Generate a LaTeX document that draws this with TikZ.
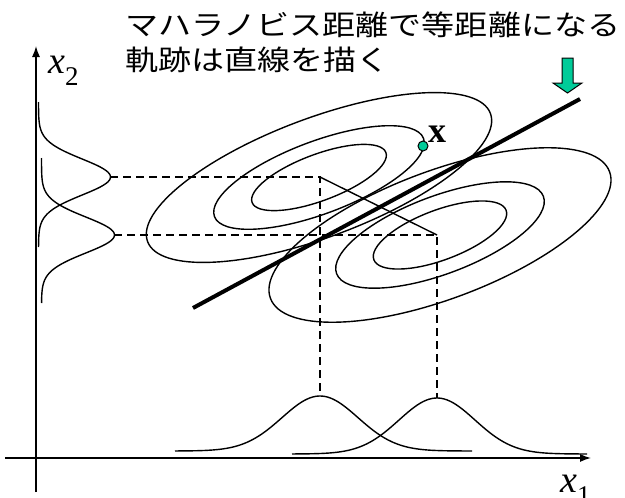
\documentclass[tikz,border=0pt]{standalone}
\usepackage{graphicx}
\usepackage{fontspec}
\setmainfont{Liberation Serif}
\newfontfamily\cjk{Noto Sans CJK JP}
\usetikzlibrary{arrows.meta}
\definecolor{mgreen}{RGB}{0,204,153}
\begin{document}
\begin{tikzpicture}[x=1pt,y=-1pt,
  curve/.style={line width=1.4pt},
  guide/.style={line width=1.3pt, dash pattern=on 8pt off 5pt},
  axisline/.style={line width=1.4pt, -{Latex[length=11pt,width=8pt]}},
  thickline/.style={line width=4pt},
  lbl/.style={anchor=base west, inner sep=0pt},
  jp/.style={anchor=base west, inner sep=0pt, font=\cjk\fontsize{28}{28}\selectfont}]
\useasboundingbox (0,0) rectangle (625,498);

% coordinates
\coordinate (yb) at (36,492);
\coordinate (yt) at (36,46);
\coordinate (xl) at (5,458);
\coordinate (xr) at (591,458);
\coordinate (m1) at (320,177);
\coordinate (m2) at (437,235);
\coordinate (cu) at (319,177.5);
\coordinate (cl) at (440,235);
\coordinate (p1) at (110,177);
\coordinate (p2) at (114,235);
\coordinate (q1) at (320,396);
\coordinate (q2) at (437,398);
\coordinate (la) at (193,308);
\coordinate (lb) at (580,99);

% axes
\draw[axisline] (yb) -- (yt);
\draw[axisline] (xl) -- (xr);
\node[lbl] (x2) at (48,73) {\fontsize{38}{38}\selectfont\textit{x}\raisebox{-12pt}{\fontsize{27}{27}\selectfont 2}};
\node[lbl] (x1) at (560,492) {\fontsize{38}{38}\selectfont\textit{x}\raisebox{-12pt}{\fontsize{27}{27}\selectfont 1}};

% marginal distributions on x2
\draw[curve] plot[domain=102:247, samples=90, smooth] ({38.5+72*exp(-0.5*((\x-177)/18)^2)}, \x);
\draw[curve] plot[domain=158:303, samples=90, smooth] ({41.5+73*exp(-0.5*((\x-235)/18)^2)}, \x);

% marginal distributions on x1
\draw[curve] plot[domain=175:472, samples=100, smooth] (\x, {451-55*exp(-0.5*((\x-320)/38)^2)});
\draw[curve] plot[domain=292:587, samples=100, smooth] (\x, {454-56*exp(-0.5*((\x-437)/38)^2)});

% guide lines
\draw[guide] (p1) -- (m1) -- (q1);
\draw[guide] (p2) -- (m2) -- (q2);
\draw[curve] (m1) -- (m2);

% contours, upper class
\begin{scope}[rotate around={20.5:(cu)}]
  \draw[curve] (cu) ellipse [x radius=183, y radius=59.5];
  \draw[curve] (cu) ellipse [x radius=111.6, y radius=36.3];
  \draw[curve] (cu) ellipse [x radius=71.4, y radius=23.2];
\end{scope}
% contours, lower class
\begin{scope}[rotate around={20.5:(cl)}]
  \draw[curve] (cl) ellipse [x radius=181, y radius=64];
  \draw[curve] (cl) ellipse [x radius=110.4, y radius=39];
  \draw[curve] (cl) ellipse [x radius=70.6, y radius=25];
\end{scope}

% boundary line
\draw[thickline] (la) -- (lb);

% point x
\node[circle, draw, fill=mgreen, line width=1pt, minimum size=10pt, inner sep=0pt] (px) at (423,146) {};
\node[lbl] (pxl) at (428,142) {\fontsize{36}{36}\selectfont\textbf{x}};

% green arrow
\draw[fill=mgreen, line width=1pt, line join=miter] (562,58) -- (573,58) -- (573,83) -- (582,83) -- (567.5,93) -- (553,83) -- (562,83) -- cycle;

% caption
\node[jp] (t1) at (125,35) {\scalebox{1.18}[1]{マハラノビス距離で等距離になる}};
\node[jp] (t2) at (125,70) {\scalebox{1.18}[1]{軌跡は直線を描く}};
\end{tikzpicture}
\end{document}
